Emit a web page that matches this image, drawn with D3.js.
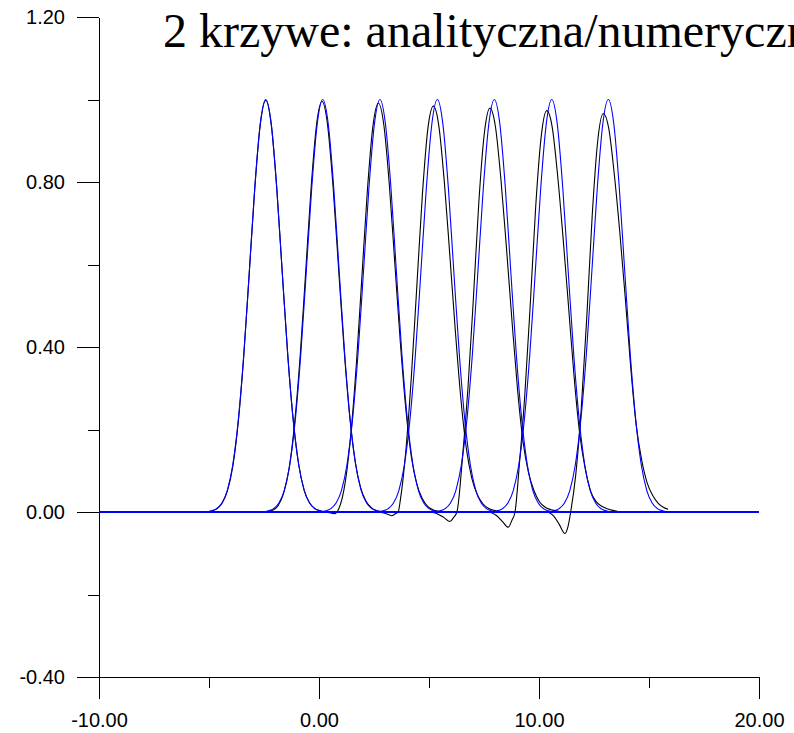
<!DOCTYPE html>
<html>
<head>
<meta charset="utf-8">
<script src="https://cdn.jsdelivr.net/npm/d3@7"></script>
<style>
  body { margin: 0; background: #fff; overflow: hidden; }
</style>
</head>
<body>
<div id="chart"></div>
<script>
// Title and axis ticks
const title = "2 krzywe: analityczna/numeryczna";
const xTicks = [-10, 0, 10, 20];
const xMinorTicks = [-5, 5, 15];
const yTicks = [-0.4, 0, 0.4, 0.8, 1.2];
const yMinorTicks = [-0.2, 0.2, 0.6, 1.0];

// Analytical solution (blue): x positions of each of the 7 pulses ...
const blueX1 = [-5.17, -4.92, -4.67, -4.42, -4.17, -3.92, -3.67, -3.42, -3.17, -2.92, -2.67, -2.42, -2.17, -1.92, -1.67, -1.42, -1.17, -0.92, -0.67, -0.42, -0.17, 0.08, 0.33];
const blueX2 = [-2.58, -2.33, -2.08, -1.83, -1.58, -1.33, -1.08, -0.83, -0.58, -0.33, -0.08, 0.17, 0.42, 0.67, 0.92, 1.17, 1.42, 1.67, 1.92, 2.17, 2.42, 2.67, 2.92];
const blueX3 = [0.02, 0.27, 0.52, 0.77, 1.02, 1.27, 1.52, 1.77, 2.02, 2.27, 2.52, 2.77, 3.02, 3.27, 3.52, 3.77, 4.02, 4.27, 4.52, 4.77, 5.02, 5.27, 5.52];
const blueX4 = [2.63, 2.88, 3.13, 3.38, 3.63, 3.88, 4.13, 4.38, 4.63, 4.88, 5.13, 5.38, 5.63, 5.88, 6.13, 6.38, 6.63, 6.88, 7.13, 7.38, 7.63, 7.88, 8.13];
const blueX5 = [5.22, 5.47, 5.72, 5.97, 6.22, 6.47, 6.72, 6.97, 7.22, 7.47, 7.72, 7.97, 8.22, 8.47, 8.72, 8.97, 9.22, 9.47, 9.72, 9.97, 10.22, 10.47, 10.72];
const blueX6 = [7.83, 8.08, 8.33, 8.58, 8.83, 9.08, 9.33, 9.58, 9.83, 10.08, 10.33, 10.58, 10.83, 11.08, 11.33, 11.58, 11.83, 12.08, 12.33, 12.58, 12.83, 13.08, 13.33];
const blueX7 = [10.40, 10.65, 10.90, 11.15, 11.40, 11.65, 11.90, 12.15, 12.40, 12.65, 12.90, 13.15, 13.40, 13.65, 13.90, 14.15, 14.40, 14.65, 14.90, 15.15, 15.40, 15.65, 15.90];
// ... and the levels, the same for every pulse
const blueY = [0.0007, 0.0024, 0.0076, 0.021, 0.052, 0.114, 0.222, 0.381, 0.581, 0.786, 0.941, 1.0, 0.941, 0.786, 0.581, 0.381, 0.222, 0.114, 0.052, 0.021, 0.0076, 0.0024, 0.0007];
const blueBase = [[-10, 0], [20, 0]];

// Numerical solution (black), one pulse per time step
const black1 = [[-5.17, 0.0007], [-4.92, 0.002], [-4.67, 0.007], [-4.42, 0.02], [-4.17, 0.05], [-3.92, 0.11], [-3.67, 0.218], [-3.42, 0.378], [-3.17, 0.579], [-2.92, 0.784], [-2.67, 0.939], [-2.42, 0.998],
  [-2.17, 0.939], [-1.92, 0.784], [-1.67, 0.58], [-1.42, 0.38], [-1.17, 0.222], [-0.92, 0.114], [-0.67, 0.052], [-0.42, 0.021], [-0.17, 0.0076], [0.08, 0.0024], [0.33, 0.0007]];
const black2 = [[-2.36, 0.001], [-2.11, 0.004], [-1.86, 0.015], [-1.61, 0.045], [-1.36, 0.105], [-1.11, 0.215], [-0.86, 0.375], [-0.61, 0.578], [-0.36, 0.785], [-0.11, 0.94], [0.14, 0.995],
  [0.39, 0.938], [0.64, 0.788], [0.89, 0.59], [1.14, 0.395], [1.39, 0.235], [1.64, 0.124], [1.89, 0.059], [2.14, 0.026], [2.39, 0.01], [2.64, 0.003], [2.89, 0.001]];
const black3 = [[0.20, 0], [0.50, -0.002], [0.70, -0.004], [0.90, 0.008], [1.20, 0.075], [1.45, 0.19], [1.70, 0.36], [1.95, 0.57], [2.20, 0.78], [2.45, 0.935], [2.70, 0.991],
  [2.95, 0.937], [3.20, 0.791], [3.45, 0.60], [3.70, 0.409], [3.95, 0.248], [4.20, 0.133], [4.45, 0.067], [4.70, 0.032], [4.95, 0.013], [5.20, 0.005], [5.45, 0.002], [5.70, 0]];
const black4 = [[2.60, 0], [2.90, -0.002], [3.15, -0.006], [3.31, -0.009], [3.45, -0.005], [3.60, 0], [3.70, 0.03], [3.95, 0.15], [4.20, 0.33], [4.45, 0.55], [4.70, 0.77], [4.95, 0.93], [5.20, 0.984],
  [5.45, 0.935], [5.70, 0.798], [5.95, 0.62], [6.20, 0.437], [6.45, 0.274], [6.70, 0.153], [6.95, 0.081], [7.20, 0.042], [7.45, 0.02], [7.70, 0.009], [7.95, 0.004], [8.20, 0.001], [8.45, 0]];
const black5 = [[5.07, 0], [5.37, -0.004], [5.67, -0.013], [5.95, -0.023], [6.12, -0.013], [6.27, 0], [6.52, 0.13], [6.77, 0.30], [7.02, 0.52], [7.27, 0.755], [7.52, 0.92], [7.77, 0.979],
  [8.02, 0.934], [8.27, 0.806], [8.52, 0.641], [8.77, 0.465], [9.02, 0.30], [9.27, 0.172], [9.52, 0.096], [9.77, 0.052], [10.02, 0.025], [10.27, 0.012], [10.52, 0.006], [10.77, 0.003], [11.02, 0]];
const black6 = [[7.75, 0], [8.05, -0.008], [8.35, -0.024], [8.60, -0.037], [8.77, -0.02], [8.91, 0], [9.10, 0.11], [9.35, 0.28], [9.60, 0.50], [9.85, 0.74], [10.10, 0.91], [10.35, 0.973],
  [10.60, 0.933], [10.85, 0.814], [11.10, 0.661], [11.35, 0.493], [11.60, 0.325], [11.85, 0.19], [12.10, 0.105], [12.35, 0.05], [12.60, 0.025], [12.85, 0.014], [13.10, 0.008], [13.35, 0.004], [13.60, 0.001]];
const black7 = [[10.42, 0], [10.67, -0.01], [10.92, -0.03], [11.18, -0.052], [11.32, -0.035], [11.44, 0], [11.67, 0.09], [11.92, 0.25], [12.17, 0.47], [12.42, 0.72], [12.67, 0.90], [12.92, 0.966],
  [13.17, 0.93], [13.42, 0.82], [13.67, 0.68], [13.92, 0.52], [14.17, 0.35], [14.42, 0.21], [14.67, 0.125], [14.92, 0.07], [15.17, 0.04], [15.42, 0.021], [15.67, 0.011], [15.87, 0.0065]];

const width = 794;
const height = 733;
const margin = { top: 17, right: 35, bottom: 56, left: 99 };

const svg = d3.select("#chart")
    .append("svg")
    .attr("width", width)
    .attr("height", height)
    .style("display", "block");

const x = d3.scaleLinear()
    .domain([-10, 20])
    .range([margin.left, width - margin.right]);

const y = d3.scaleLinear()
    .domain([-0.4, 1.2])
    .range([height - margin.bottom, margin.top]);

const fmt = d => d.toFixed(2);

// Axes
svg.append("g")
    .attr("transform", `translate(${x(-10)},0)`)
    .call(d3.axisLeft(y).tickValues(yTicks).tickSize(22).tickSizeOuter(0).tickPadding(12).tickFormat(fmt));
svg.append("g")
    .attr("transform", `translate(${x(-10)},0)`)
    .call(d3.axisLeft(y).tickValues(yMinorTicks).tickSize(11).tickFormat(""))
    .call(g => g.select(".domain").remove());

svg.append("g")
    .attr("transform", `translate(0,${y(-0.4)})`)
    .call(d3.axisBottom(x).tickValues(xTicks).tickSize(22).tickSizeOuter(0).tickPadding(14).tickFormat(fmt));
svg.append("g")
    .attr("transform", `translate(0,${y(-0.4)})`)
    .call(d3.axisBottom(x).tickValues(xMinorTicks).tickSize(11).tickFormat(""))
    .call(g => g.select(".domain").remove());

svg.selectAll(".tick line, .domain")
    .attr("stroke", "#000")
    .attr("shape-rendering", "crispEdges");
svg.selectAll(".tick text")
    .attr("fill", "#000")
    .style("font-family", "'Liberation Sans', Arial, sans-serif")
    .style("font-size", "20px");

// Curves
const line = d3.line()
    .x(d => x(d[0]))
    .y(d => y(d[1]))
    .curve(d3.curveMonotoneX);

const blackSeries = [black1, black2, black3, black4, black5, black6, black7];
svg.append("g")
    .selectAll("path")
    .data(blackSeries)
    .enter()
    .append("path")
    .attr("d", line)
    .attr("fill", "none")
    .attr("stroke", "#000")
    .attr("stroke-width", 1.1);

const blueSeries = [blueX1, blueX2, blueX3, blueX4, blueX5, blueX6, blueX7]
    .map(xs => xs.map((v, i) => [v, blueY[i]]));
svg.append("path")
    .datum(blueBase)
    .attr("d", line)
    .attr("fill", "none")
    .attr("stroke", "#0000ff")
    .attr("stroke-width", 2);
svg.append("g")
    .selectAll("path")
    .data(blueSeries)
    .enter()
    .append("path")
    .attr("d", line)
    .attr("fill", "none")
    .attr("stroke", "#0000ff")
    .attr("stroke-width", 1.1);

// Title (runs off the right edge, as in the original)
svg.append("text")
    .attr("x", 163)
    .attr("y", 47)
    .attr("fill", "#000")
    .style("font-family", "'Liberation Serif', 'Times New Roman', serif")
    .style("font-size", "48px")
    .text(title);
</script>
</body>
</html>
